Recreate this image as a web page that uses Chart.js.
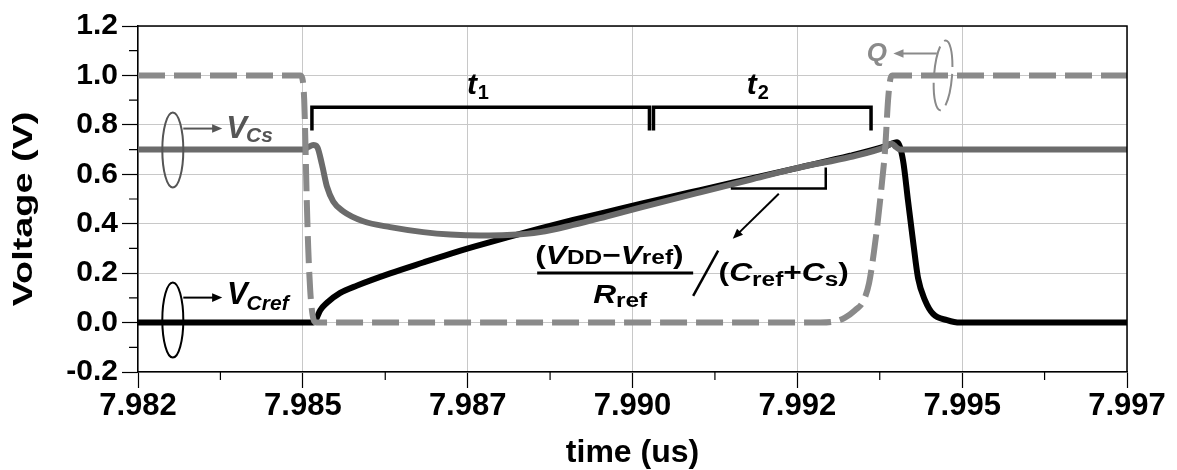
<!DOCTYPE html>
<html>
<head>
<meta charset="utf-8">
<title>Voltage vs time</title>
<script src="https://cdn.jsdelivr.net/npm/chart.js@4.4.1/dist/chart.umd.min.js"></script>
<style>
  html, body { margin: 0; padding: 0; background: #fff; }
  canvas { display: block; }
</style>
</head>
<body>
<canvas id="voltageChart" width="1177" height="470"></canvas>
<script>
// axis ticks (time in us, voltage in V)
const xTickValues = [7.982, 7.9845, 7.987, 7.9895, 7.992, 7.9945, 7.997];
const xTickLabels = ['7.982', '7.985', '7.987', '7.990', '7.992', '7.995', '7.997'];
const yTickValues = [-0.2, 0, 0.2, 0.4, 0.6, 0.8, 1.0, 1.2];
const yTickLabels = ['-0.2', '0.0', '0.2', '0.4', '0.6', '0.8', '1.0', '1.2'];

// Q (comparator output)
const qTime = [7.982, 7.984461, 7.984491, 7.984521, 7.984537, 7.984559, 7.984582, 7.984612, 7.984643,
  7.984673, 7.984703, 7.992345, 7.992573, 7.992724, 7.992876, 7.992997, 7.993088, 7.993164, 7.993225,
  7.993285, 7.993331, 7.993376, 7.993407, 7.993437, 7.997];
const qVolt = [1.0, 1.0, 0.99, 0.9, 0.75, 0.5, 0.3, 0.13, 0.04,
  0.005, 0.0, 0.0, 0.005, 0.02, 0.05, 0.085, 0.16, 0.29, 0.42,
  0.57, 0.7, 0.9, 0.98, 1.0, 1.0];

// V_Cs
const csTime = [7.982, 7.984506, 7.984582, 7.984658, 7.984719, 7.98479, 7.984866, 7.984961, 7.985113,
  7.985416, 7.985825, 7.986326, 7.986735, 7.98719, 7.987599, 7.9881, 7.9886, 7.989116, 7.989616,
  7.990526, 7.991284, 7.992042, 7.9928, 7.993331, 7.993432, 7.993498, 7.993558, 7.997];
const csVolt = [0.70, 0.70, 0.71, 0.718, 0.71, 0.64, 0.55, 0.49, 0.45,
  0.41, 0.386, 0.366, 0.356, 0.352, 0.354, 0.366, 0.395, 0.43, 0.465,
  0.527, 0.578, 0.628, 0.67, 0.71, 0.724, 0.71, 0.70, 0.70];

// V_Cref
const crefTime = [7.982, 7.984658, 7.984703, 7.984764, 7.984866, 7.985067, 7.985325, 7.985825, 7.986326,
  7.986735, 7.987084, 7.987599, 7.9881, 7.9886, 7.989116, 7.989616, 7.990526, 7.991284, 7.992042,
  7.9928, 7.993331, 7.993513, 7.993604, 7.99368, 7.993755, 7.993831, 7.993937, 7.994059, 7.994271,
  7.994468, 7.997];
const crefVolt = [0.0, 0.0, 0.015, 0.05, 0.08, 0.12, 0.15, 0.199, 0.243,
  0.278, 0.306, 0.345, 0.381, 0.415, 0.448, 0.48, 0.536, 0.582, 0.628,
  0.675, 0.713, 0.73, 0.655, 0.49, 0.33, 0.18, 0.09, 0.035, 0.01,
  0.0, 0.0];

const FONT = '"Liberation Sans", Arial, sans-serif';
const B = size => `bold ${size}px ${FONT}`;
const BI = size => `italic bold ${size}px ${FONT}`;

function toPoints(times, volts) {
    return times.map((t, i) => ({ x: t, y: volts[i] }));
}

function arrow(c, x1, y1, x2, y2, color) {
    const a = Math.atan2(y2 - y1, x2 - x1);
    const head = 11;
    c.strokeStyle = color;
    c.fillStyle = color;
    c.lineWidth = 2;
    c.beginPath();
    c.moveTo(x1, y1);
    c.lineTo(x2 - Math.cos(a) * head * 0.8, y2 - Math.sin(a) * head * 0.8);
    c.stroke();
    c.beginPath();
    c.moveTo(x2, y2);
    c.lineTo(x2 - head * Math.cos(a - 0.4), y2 - head * Math.sin(a - 0.4));
    c.lineTo(x2 - head * Math.cos(a + 0.4), y2 - head * Math.sin(a + 0.4));
    c.closePath();
    c.fill();
}

// draws text runs left to right (main letters, subscripts...) with optional horizontal stretch
function richText(c, x, y, parts, sx) {
    c.save();
    c.translate(x, y);
    c.scale(sx || 1, 1);
    c.textBaseline = 'alphabetic';
    c.textAlign = 'left';
    let cx = 0;
    parts.forEach(p => {
        c.font = p.font;
        c.fillStyle = p.color || '#000';
        c.fillText(p.text, cx, p.dy || 0);
        cx += c.measureText(p.text).width + (p.gap || 0);
    });
    c.restore();
}

// top/right frame and minor ticks
const frameTicks = {
    id: 'frameTicks',
    afterDraw(chart) {
        const c = chart.ctx;
        const { left, right, top, bottom } = chart.chartArea;
        const xs = chart.scales.x, ys = chart.scales.y;
        c.save();
        c.strokeStyle = '#000';
        c.lineWidth = 1.5;
        c.beginPath();
        c.moveTo(left, top);
        c.lineTo(right, top);
        c.lineTo(right, bottom);
        c.stroke();
        c.lineWidth = 1.2;
        c.beginPath();
        for (let i = 0; i < xTickValues.length - 1; i++) {
            const px = xs.getPixelForValue((xTickValues[i] + xTickValues[i + 1]) / 2);
            c.moveTo(px, bottom);
            c.lineTo(px, bottom + 8);
        }
        for (let i = 0; i < yTickValues.length - 1; i++) {
            const py = ys.getPixelForValue((yTickValues[i] + yTickValues[i + 1]) / 2);
            c.moveTo(left, py);
            c.lineTo(left - 9, py);
        }
        c.stroke();

        // y axis title, drawn by hand so it can be stretched along its length
        c.translate(25, 209);
        c.rotate(-Math.PI / 2);
        c.scale(1.4, 1);
        c.font = B(27);
        c.fillStyle = '#000';
        c.textAlign = 'center';
        c.textBaseline = 'middle';
        c.fillText('Voltage (V)', 0, 0);
        c.restore();
    }
};

// Q ellipse sits under the traces
const underMarks = {
    id: 'underMarks',
    beforeDatasetsDraw(chart) {
        const c = chart.ctx;
        const xs = chart.scales.x, ys = chart.scales.y;
        c.save();
        c.strokeStyle = '#8a8a8a';
        c.lineWidth = 2;
        c.setLineDash([30, 7]);
        c.beginPath();
        c.ellipse(xs.getPixelForValue(7.99421), ys.getPixelForValue(1.0), 9, 35, 0.08, 0, Math.PI * 2);
        c.stroke();
        c.restore();
    }
};

// labels, brackets and slope note
const notes = {
    id: 'notes',
    afterDatasetsDraw(chart) {
        const c = chart.ctx;
        const X = v => chart.scales.x.getPixelForValue(v);
        const Y = v => chart.scales.y.getPixelForValue(v);
        c.save();

        // V_Cs marker
        c.strokeStyle = '#555';
        c.lineWidth = 2;
        c.beginPath();
        c.ellipse(X(7.982528), Y(0.698), 10.5, 37.5, 0, 0, Math.PI * 2);
        c.stroke();
        arrow(c, X(7.982687), Y(0.785), X(7.983278), Y(0.785), '#555');
        richText(c, X(7.983339), Y(0.748), [
            { text: 'V', font: BI(31), color: '#555', gap: -1 },
            { text: 'Cs', font: BI(21), color: '#555', dy: 4 }
        ]);

        // V_Cref marker
        c.strokeStyle = '#000';
        c.beginPath();
        c.ellipse(X(7.982528), Y(0.010), 10.5, 37.5, 0, 0, Math.PI * 2);
        c.stroke();
        arrow(c, X(7.982687), Y(0.101), X(7.983278), Y(0.101), '#000');
        richText(c, X(7.983349), Y(0.076), [
            { text: 'V', font: BI(31), gap: -1 },
            { text: 'Cref', font: BI(21), dy: 6 }
        ]);

        // Q marker
        arrow(c, X(7.994115), Y(1.089), X(7.993457), Y(1.089), '#8a8a8a');
        richText(c, X(7.993053), Y(1.06), [{ text: 'Q', font: BI(26), color: '#8a8a8a' }]);

        // t1 / t2 brackets
        c.strokeStyle = '#000';
        c.lineWidth = 3.5;
        c.lineJoin = 'miter';
        [[7.984638, 7.989757], [7.989818, 7.993118]].forEach(([a, b]) => {
            c.beginPath();
            c.moveTo(X(a), Y(0.777));
            c.lineTo(X(a), Y(0.871));
            c.lineTo(X(b), Y(0.871));
            c.lineTo(X(b), Y(0.777));
            c.stroke();
        });
        richText(c, X(7.986988), Y(0.925), [
            { text: 't', font: BI(30), gap: 1 },
            { text: '1', font: B(20), dy: 5 }
        ]);
        richText(c, X(7.991234), Y(0.925), [
            { text: 't', font: BI(30), gap: 1 },
            { text: '2', font: B(20), dy: 5 }
        ]);

        // slope triangle and pointer
        c.lineWidth = 2.5;
        c.beginPath();
        c.moveTo(X(7.990991), Y(0.542));
        c.lineTo(X(7.992431), Y(0.542));
        c.lineTo(X(7.992431), Y(0.627));
        c.stroke();
        arrow(c, X(7.991719), Y(0.521), X(7.991021), Y(0.339), '#000');

        // slope formula
        const sx = 1.22;
        richText(c, X(7.988024), Y(0.238), [
            { text: '(', font: B(26) },
            { text: 'V', font: BI(26) },
            { text: 'DD', font: B(20) },
            { text: '\u2212', font: B(26) },
            { text: 'V', font: BI(26) },
            { text: 'ref', font: B(20) },
            { text: ')', font: B(26) }
        ], sx);
        c.lineWidth = 3;
        c.beginPath();
        c.moveTo(X(7.988054), Y(0.201));
        c.lineTo(X(7.99042), Y(0.201));
        c.stroke();
        richText(c, X(7.988903), Y(0.080), [
            { text: 'R', font: BI(26) },
            { text: 'ref', font: B(20), dy: 4 }
        ], sx);
        c.lineWidth = 2.5;
        c.beginPath();
        c.moveTo(X(7.99042), Y(0.108));
        c.lineTo(X(7.990799), Y(0.291));
        c.stroke();
        richText(c, X(7.990806), Y(0.169), [
            { text: '(', font: B(26) },
            { text: 'C', font: BI(26) },
            { text: 'ref', font: B(20), dy: 5 },
            { text: '+', font: B(26) },
            { text: 'C', font: BI(26) },
            { text: 's', font: B(20), dy: 5 },
            { text: ')', font: B(26) }
        ], sx);
        c.restore();
    }
};

const ctx = document.getElementById('voltageChart').getContext('2d');
const chart = new Chart(ctx, {
    type: 'line',
    data: {
        datasets: [{
            label: 'Q',
            data: toPoints(qTime, qVolt),
            borderColor: '#8a8a8a',
            borderWidth: 6,
            borderDash: [27, 9]
        }, {
            label: 'V_Cs',
            data: toPoints(csTime, csVolt),
            borderColor: '#6b6b6b',
            borderWidth: 6
        }, {
            label: 'V_Cref',
            data: toPoints(crefTime, crefVolt),
            borderColor: '#000000',
            borderWidth: 6
        }]
    },
    options: {
        responsive: false,
        animation: false,
        devicePixelRatio: 1,
        layout: { padding: { top: 26, right: 50, left: 0, bottom: 0 } },
        elements: {
            point: { radius: 0 },
            line: { cubicInterpolationMode: 'monotone', fill: false, borderJoinStyle: 'round' }
        },
        plugins: {
            legend: { display: false },
            tooltip: { enabled: false }
        },
        scales: {
            x: {
                type: 'linear',
                min: 7.982,
                max: 7.997,
                afterBuildTicks: s => { s.ticks = xTickValues.map(v => ({ value: v })); },
                afterFit: s => { s.height = 98; },
                ticks: {
                    callback: (v, i) => xTickLabels[i],
                    font: { family: FONT, size: 31, weight: 'bold' },
                    color: '#000',
                    padding: 0,
                    maxRotation: 0,
                    autoSkip: false
                },
                grid: { color: '#c8c8c8', lineWidth: 1, tickColor: '#000', tickLength: 16, tickWidth: 1.2 },
                border: { color: '#000', width: 1.5 },
                title: {
                    display: true,
                    text: 'time (us)',
                    color: '#000',
                    font: { family: FONT, size: 32, weight: 'bold', lineHeight: 1 },
                    padding: { top: 0, bottom: 1 }
                }
            },
            y: {
                min: -0.2,
                max: 1.2,
                afterBuildTicks: s => { s.ticks = yTickValues.map(v => ({ value: v })); },
                afterFit: s => { s.width = 138; },
                ticks: {
                    callback: (v, i) => yTickLabels[i],
                    font: { family: FONT, size: 30, weight: 'bold' },
                    color: '#000',
                    padding: 4
                },
                grid: { color: '#c8c8c8', lineWidth: 1, tickColor: '#000', tickLength: 16, tickWidth: 1.2 },
                border: { color: '#000', width: 1.5 }
            }
        }
    },
    plugins: [underMarks, notes, frameTicks]
});
</script>
</body>
</html>
